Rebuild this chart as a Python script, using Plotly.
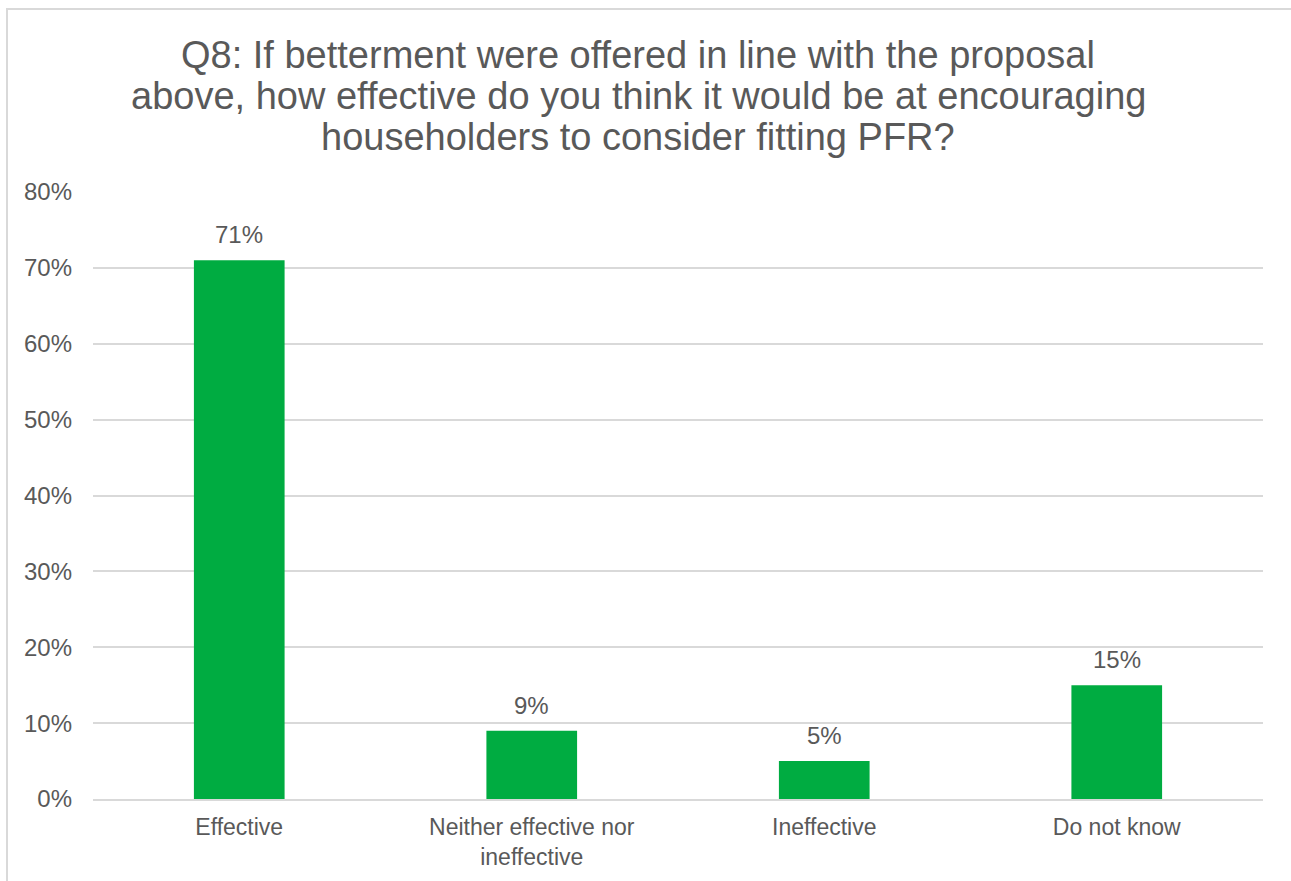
import plotly.graph_objects as go

# Survey responses to Q8 (share of respondents)
categories = ["Effective", "Neither effective nor<br>ineffective", "Ineffective", "Do not know"]
shares = [0.71, 0.09, 0.05, 0.15]

title_lines = [
    "Q8: If betterment were offered in line with the proposal",
    "above, how effective do you think it would be at encouraging",
    "householders to consider fitting PFR?",
]

BAR_GREEN = "#00AC41"
TEXT_GREY = "#595959"
GRID_GREY = "#D9D9D9"
FONT = "Liberation Sans, Arial, sans-serif"

W, H = 1291, 881
M_L, M_R, M_T, M_B = 93, 28, 192, 82
pw, ph = W - M_L - M_R, H - M_T - M_B

fig = go.Figure(
    go.Bar(
        x=categories,
        y=shares,
        marker=dict(color=BAR_GREEN, line=dict(width=0)),
        width=0.31,
        hoverinfo="skip",
    )
)

# value labels above each bar
for cat, val in zip(categories, shares):
    fig.add_annotation(
        x=cat, y=val, text=f"{val:.0%}", showarrow=False,
        yanchor="bottom", yshift=10,
        font=dict(family=FONT, size=24, color=TEXT_GREY),
    )

# three-line heading, set line by line for tighter leading
for i, line in enumerate(title_lines):
    y_px = 55 + 41 * i
    fig.add_annotation(
        xref="paper", yref="paper",
        x=(638 - M_L) / pw, y=(H - M_B - y_px) / ph,
        xanchor="center", yanchor="middle",
        text=line, showarrow=False,
        font=dict(family=FONT, size=38, color=TEXT_GREY),
    )

# light outer frame around the chart
fig.add_shape(
    type="rect", xref="paper", yref="paper",
    x0=(7 - M_L) / pw, x1=(W + 20 - M_L) / pw,
    y0=(H - M_B - (H + 20)) / ph, y1=(H - M_B - 9) / ph,
    line=dict(color=GRID_GREY, width=2), fillcolor="rgba(0,0,0,0)", layer="below",
)

fig.update_layout(
    width=W, height=H,
    margin=dict(l=M_L, r=M_R, t=M_T, b=M_B),
    paper_bgcolor="white", plot_bgcolor="white",
    font=dict(family=FONT, color=TEXT_GREY),
    showlegend=False,
)

fig.update_yaxes(
    range=[0, 0.8], dtick=0.1, tickformat=".0%",
    showgrid=True, gridcolor=GRID_GREY, gridwidth=2,
    zeroline=False, showline=False,
    ticks="", ticklabelstandoff=20,
    tickfont=dict(family=FONT, size=24, color=TEXT_GREY),
)
fig.update_xaxes(
    showline=True, linecolor=GRID_GREY, linewidth=2,
    showgrid=False, ticks="", ticklabelstandoff=6,
    tickfont=dict(family=FONT, size=23, color=TEXT_GREY),
)

fig.write_html("out.html")
